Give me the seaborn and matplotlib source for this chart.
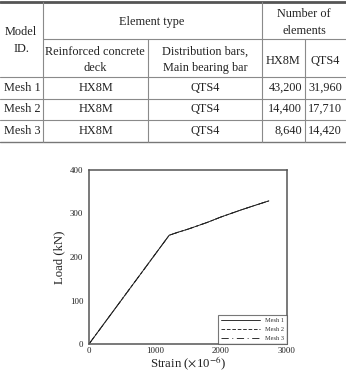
import matplotlib
matplotlib.use("Agg")
import matplotlib.pyplot as plt
import seaborn as sns
import pandas as pd
from matplotlib.lines import Line2D

# ---------------- data ----------------
model_ids = ["Mesh 1", "Mesh 2", "Mesh 3"]
deck_types = ["HX8M", "HX8M", "HX8M"]
bar_types = ["QTS4", "QTS4", "QTS4"]
hx8m_counts = ["43,200", "14,400", "8,640"]
qts4_counts = ["31,960", "17,710", "14,420"]

strain_mesh1 = [0, 1215, 1350, 1500, 1650, 1800, 2000, 2150, 2300, 2500, 2725]
load_mesh1 = [0, 250, 257, 264, 272, 280, 292, 300, 308, 318, 329]
strain_mesh2 = [0, 1215, 1350, 1500, 1650, 1800, 2000, 2150, 2300, 2500, 2725]
load_mesh2 = [0, 250, 257, 264, 272, 280, 292, 300, 308, 318, 329]
strain_mesh3 = [0, 1215, 1350, 1500, 1650, 1800, 2000, 2150, 2300, 2500, 2725]
load_mesh3 = [0, 250, 257, 264, 272, 280, 292, 300, 308, 318, 329]

x_ticks = [0, 1000, 2000, 3000]
y_ticks = [0, 100, 200, 300, 400]

# ---------------- style ----------------
sns.set_style("white")
plt.rcParams["font.family"] = ["Liberation Serif", "DejaVu Serif"]
plt.rcParams["mathtext.fontset"] = "stix"

W, H = 346, 374
fig = plt.figure(figsize=(W / 100, H / 100), dpi=100)

TXT = "#222222"
LINE = "#8a8a8a"
FS = 8.8

def fx(px):
    return px / W

def fy(py):
    return 1 - py / H

def hline(y, x0, x1, lw=0.8, c=LINE):
    fig.add_artist(Line2D([fx(x0), fx(x1)], [fy(y), fy(y)], lw=lw, color=c,
                          transform=fig.transFigure))

def vline(x, y0, y1, lw=0.8, c=LINE):
    fig.add_artist(Line2D([fx(x), fx(x)], [fy(y0), fy(y1)], lw=lw, color=c,
                          transform=fig.transFigure))

def t(x, y, s, ha="center", size=FS):
    fig.text(fx(x), fy(y), s, ha=ha, va="center", fontsize=size, color=TXT)

# ---------------- table ----------------
hline(2, 0, W, lw=2.0, c="#555555")
hline(39, 43, W)
hline(77, 0, W)
hline(99, 0, W)
hline(120, 0, W)
hline(142, 0, W, lw=1.0, c="#777777")
vline(43, 2, 142)
vline(262, 2, 142)
vline(148, 39, 142)
vline(305, 39, 142)

t(21, 32, "Model")
t(21, 49, "ID.")
t(152, 22, "Element type")
t(304, 14, "Number of")
t(304, 31, "elements")
t(95, 52, "Reinforced concrete")
t(95, 68, "deck")
t(205, 52, "Distribution bars,")
t(205, 68, "Main bearing bar")
t(283, 61, "HX8M")
t(325, 61, "QTS4")

row_y = [88, 109, 131]
for i, ry in enumerate(row_y):
    t(22, ry, model_ids[i])
    t(96, ry, deck_types[i])
    t(205, ry, bar_types[i])
    t(302, ry, hx8m_counts[i], ha="right")
    t(325, ry, qts4_counts[i])

# ---------------- chart ----------------
ax = fig.add_axes([89 / W, (H - 344) / H, (287 - 89) / W, (344 - 170) / H])

df = pd.concat([
    pd.DataFrame({"Strain": strain_mesh1, "Load": load_mesh1, "Mesh": "Mesh 1"}),
    pd.DataFrame({"Strain": strain_mesh2, "Load": load_mesh2, "Mesh": "Mesh 2"}),
    pd.DataFrame({"Strain": strain_mesh3, "Load": load_mesh3, "Mesh": "Mesh 3"}),
])

sns.lineplot(data=df, x="Strain", y="Load", style="Mesh", color="#222222",
             dashes={"Mesh 1": "", "Mesh 2": (4, 2), "Mesh 3": (8, 4, 1, 4)},
             linewidth=0.65, ax=ax, sort=False, estimator=None)

ax.set_xlim(0, 3000)
ax.set_ylim(0, 400)
ax.set_xticks(x_ticks)
ax.set_yticks(y_ticks)
for sp in ax.spines.values():
    sp.set_color("#555555")
    sp.set_linewidth(1.1)
ax.tick_params(axis="both", labelsize=6.4, colors="#555555", labelcolor=TXT,
               length=2, width=0.8, pad=2)
ax.tick_params(axis="x", direction="in")
ax.tick_params(axis="y", direction="out")
ax.set_xlabel(r"Strain ($\times$10$^{-6}$)", fontsize=9.2, color=TXT, labelpad=0)
ax.set_ylabel("Load (kN)", fontsize=9.2, color=TXT, labelpad=3)

leg = ax.legend(loc="lower right", fontsize=4.6, frameon=True, fancybox=False,
                borderaxespad=0, handlelength=6.0, handletextpad=0.8,
                labelspacing=0.5, borderpad=0.5)
leg.get_frame().set_edgecolor("#555555")
leg.get_frame().set_linewidth(0.8)
for txt in leg.get_texts():
    txt.set_color("#333333")

fig.savefig("out.png", dpi=100)
